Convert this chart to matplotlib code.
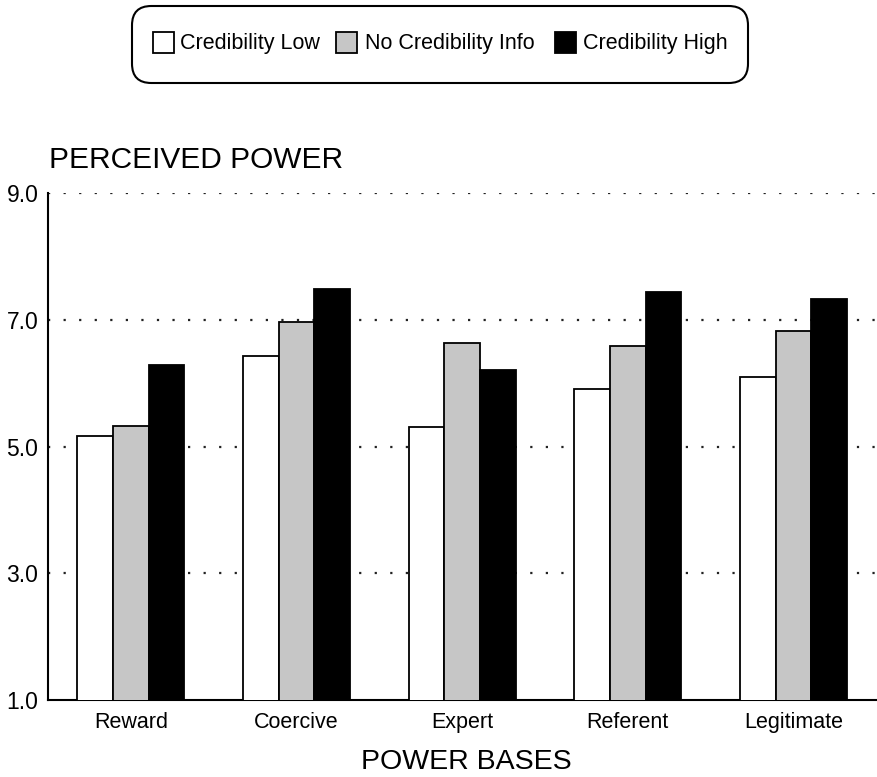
import matplotlib
matplotlib.use('Agg')
import matplotlib.pyplot as plt
from matplotlib.patches import Rectangle, FancyBboxPatch
import numpy as np

# Data
bases = ['Reward', 'Coercive', 'Expert', 'Referent', 'Legitimate']
cred_low = [5.17, 6.43, 5.31, 5.91, 6.10]
no_info = [5.33, 6.96, 6.64, 6.59, 6.83]
cred_high = [6.28, 7.49, 6.21, 7.44, 7.33]
series_names = ['Credibility Low', 'No Credibility Info', 'Credibility High']
yticks = [1.0, 3.0, 5.0, 7.0, 9.0]

colors = ['white', '#c6c6c6', 'black']

plt.rcParams['font.family'] = ['Liberation Sans', 'DejaVu Sans']

W, H = 878, 777
fig = plt.figure(figsize=(W / 100, H / 100), dpi=100)
ax = fig.add_axes([48 / W, 77 / H, 830 / W, 507 / H])

x = np.arange(len(bases))
w = 0.215
for i, vals in enumerate([cred_low, no_info, cred_high]):
    ax.bar(x + (i - 1) * w, vals, width=w, color=colors[i], edgecolor='black',
           linewidth=1.3, zorder=3)

ax.set_xlim(-0.5, 4.51)
ax.set_ylim(1, 9)
ax.set_yticks(yticks)
ax.set_yticklabels(['%.1f' % t for t in yticks], fontsize=16.5)
ax.set_xticks(x)
ax.set_xticklabels(bases, fontsize=15.5, va='baseline')
ax.tick_params(axis='x', length=0, pad=20)
ax.tick_params(axis='y', length=0, pad=7)
for t in [3, 5, 7, 9]:
    ax.axhline(t, color='#222222', linestyle=(0, (1, 6)), linewidth=1.6, zorder=1)
ax.spines['top'].set_visible(False)
ax.spines['right'].set_visible(False)
ax.spines['left'].set_linewidth(1.5)
ax.spines['bottom'].set_linewidth(1.5)

fig.text(49 / W, 1 - 160 / H, 'PERCEIVED POWER', fontsize=21.5, va='center', ha='left')
fig.text(466 / W, 1 - 762 / H, 'POWER BASES', fontsize=20.5, va='center', ha='center')

# legend drawn by hand inside a rounded frame
box = FancyBboxPatch((132 / W, 1 - 83 / H), 616 / W, 77 / H,
                     boxstyle='round,pad=0,rounding_size=0.022',
                     transform=fig.transFigure, facecolor='none', edgecolor='black',
                     linewidth=1.5, mutation_aspect=W / H)
fig.patches.append(box)
sq_x = [153, 336, 555]
txt_x = [180, 365, 583]
for c, sx, tx, name in zip(colors, sq_x, txt_x, series_names):
    fig.patches.append(Rectangle((sx / W, 1 - 53 / H), 21 / W, 21 / H,
                                 transform=fig.transFigure, facecolor=c,
                                 edgecolor='black', linewidth=1.3))
    fig.text(tx / W, 1 - 43 / H, name, fontsize=15.5, va='center', ha='left')

fig.savefig('out.png', dpi=100)
